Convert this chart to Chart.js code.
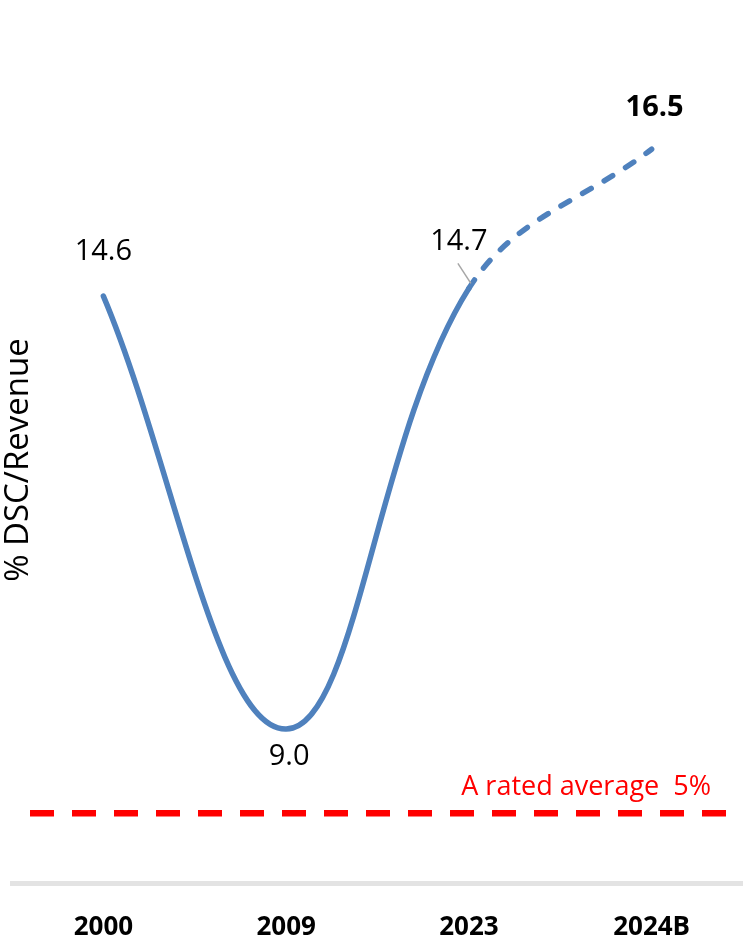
<!DOCTYPE html>
<html>
<head>
<meta charset="utf-8">
<script src="https://cdn.jsdelivr.net/npm/chart.js@4.4.0/dist/chart.umd.min.js"></script>
<style>
  html, body { margin: 0; padding: 0; background: #fff; }
  #wrap { width: 743px; height: 950px; }
</style>
</head>
<body>
<div id="wrap"><canvas id="lineChart" width="743" height="950"></canvas></div>
<script>
// categories and values
const years = ['2000', '2009', '2023', '2024B']
const dscRatio = [14.6, 9.0, 14.7, 16.5]
const labelText = ['14.6', '9.0', '14.7', '16.5']

// reference line (position on the chart's scale) and its caption
const refLevel = 7.91
const refLabel = 'A rated average  5%'

const blue = '#4f81bd'

// draws the value labels, the red reference line and the y title
const extras = {
    id: 'extras',
    afterDatasetsDraw(chart) {
        const ctx = chart.ctx
        const xs = chart.scales.x
        const ys = chart.scales.y
        const area = chart.chartArea

        // red dashed line
        const yRef = ys.getPixelForValue(refLevel)
        ctx.save()
        ctx.strokeStyle = '#ff0000'
        ctx.lineWidth = 6.5
        ctx.setLineDash([24, 18])
        ctx.beginPath()
        ctx.moveTo(30, yRef)
        ctx.lineTo(area.right, yRef)
        ctx.stroke()
        ctx.restore()

        ctx.save()
        ctx.fillStyle = '#ff0000'
        ctx.font = '27px "Open Sans"'
        ctx.textAlign = 'right'
        ctx.textBaseline = 'alphabetic'
        ctx.fillText(refLabel, 711, yRef - 18)
        ctx.restore()

        // value labels
        ctx.save()
        ctx.fillStyle = '#000'
        ctx.textAlign = 'center'
        ctx.textBaseline = 'middle'
        const offs = [[0, -44], [3, 28], [-10, -47], [3, -41]]
        labelText.forEach((t, i) => {
            const px = xs.getPixelForValue(i)
            const py = ys.getPixelForValue(dscRatio[i])
            ctx.font = (i === 3 ? 'bold ' : '') + '29px "Open Sans"'
            ctx.fillText(t, px + offs[i][0], py + offs[i][1])
        })
        // leader line for 2023
        const lx = xs.getPixelForValue(2)
        const ly = ys.getPixelForValue(dscRatio[2])
        ctx.strokeStyle = '#a6a6a6'
        ctx.lineWidth = 1.5
        ctx.beginPath()
        ctx.moveTo(lx - 11, ly - 25)
        ctx.lineTo(lx + 2, ly - 5)
        ctx.stroke()
        ctx.restore()

        // y axis title
        ctx.save()
        ctx.translate(19, 460)
        ctx.rotate(-Math.PI / 2)
        ctx.fillStyle = '#000'
        ctx.font = '33px "Open Sans"'
        ctx.textAlign = 'center'
        ctx.textBaseline = 'middle'
        ctx.fillText('% DSC/Revenue', 0, 0)
        ctx.restore()
    }
}

const data = {
    labels: years,
    datasets: [{
        label: '% DSC/Revenue',
        data: dscRatio,
        borderColor: blue,
        backgroundColor: blue,
        borderWidth: 5.5,
        borderCapStyle: 'round',
        pointRadius: 0,
        tension: 0.38,
        segment: {
            borderDash: ctx => ctx.p0DataIndex === 2 ? [10, 15] : undefined
        }
    }]
}

const config = {
    type: 'line',
    data: data,
    options: {
        responsive: false,
        animation: false,
        layout: { padding: { left: 12, right: 0, top: 0, bottom: 0 } },
        plugins: {
            legend: { display: false },
            tooltip: { enabled: false }
        },
        scales: {
            x: {
                offset: true,
                grid: { display: false, drawTicks: false },
                border: { display: true, color: '#e3e3e3', width: 5 },
                ticks: {
                    padding: 29,
                    color: '#000',
                    font: { family: '"Open Sans"', size: 26, weight: 'bold' }
                },
                afterFit: scale => { scale.height = 67 }
            },
            y: {
                display: false,
                min: 7.009,
                max: 18.43
            }
        }
    },
    plugins: [extras]
}

const myChart = new Chart(document.getElementById('lineChart'), config)
</script>
</body>
</html>
